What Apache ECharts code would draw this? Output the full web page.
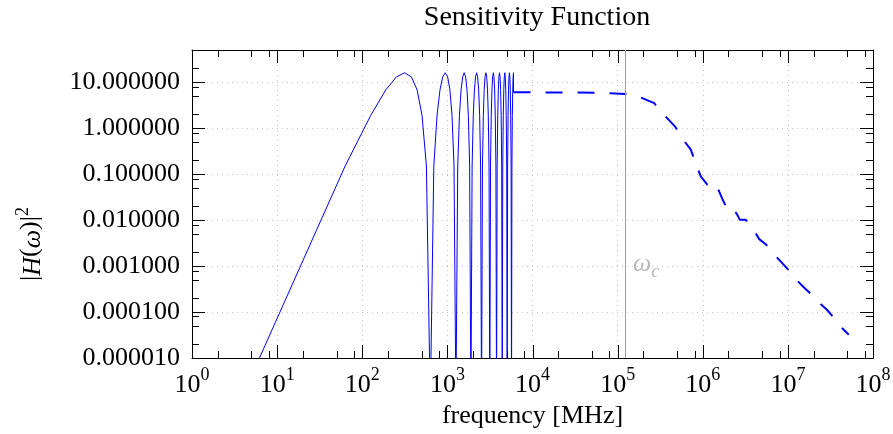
<!DOCTYPE html>
<html><head><meta charset="utf-8">
<script src="https://cdn.jsdelivr.net/npm/echarts@6/dist/echarts.min.js"></script>
<style>html,body{margin:0;padding:0;background:#fff}#c{width:893px;height:434px}</style>
</head><body><div id="c"></div>
<script>
const titleText = 'Sensitivity Function';
const xName = 'frequency [MHz]';
const xMajorTicks = [1, 10, 100, 1e3, 1e4, 1e5, 1e6, 1e7, 1e8];
const xMinorTicks = [2, 5, 8, 20, 50, 80, 200, 500, 800, 2e3, 5e3, 8e3, 2e4, 5e4, 8e4,
  2e5, 5e5, 8e5, 2e6, 5e6, 8e6, 2e7, 5e7, 8e7];
const yMajorTicks = [1e-5, 1e-4, 1e-3, 1e-2, 1e-1, 1, 10];
const yMinorTicks = [2e-5, 5e-5, 8e-5, 2e-4, 5e-4, 8e-4, 2e-3, 5e-3, 8e-3, 2e-2, 5e-2, 8e-2,
  0.2, 0.5, 0.8, 2, 5, 8, 20];

// solid curve (sampled comb response)
const solidFreq = [6.2,
  63, 126, 189, 252, 315, 378, 441, 504, 567, 630,
  693, 756, 819, 882, 945, 1008, 1071, 1134, 1197, 1260,
  1323, 1386, 1449, 1512, 1575, 1638, 1701, 1764, 1827, 1890,
  1953, 2016, 2079, 2142, 2205, 2268, 2331, 2394, 2457, 2520,
  2583, 2646, 2709, 2772, 2835, 2898, 2961, 3024, 3087, 3150,
  3213, 3276, 3339, 3402, 3465, 3528, 3591, 3654, 3717, 3780,
  3843, 3906, 3969, 4032, 4095, 4158, 4221, 4284, 4347, 4410,
  4473, 4536, 4599, 4662, 4725, 4788, 4851, 4914, 4977, 5040,
  5103, 5166, 5229, 5292, 5355, 5418, 5481, 5544, 5607, 5670,
  5733, 5796, 5859, 5922, 5985, 5985];
const solidGain = [1e-5,
  0.15, 1.9, 6.8, 13, 16, 13, 6.8, 1.9, 0.15, 1e-6,
  0.15, 1.9, 6.8, 13, 16, 13, 6.8, 1.9, 0.15, 1e-6,
  0.15, 1.9, 6.8, 13, 16, 13, 6.8, 1.9, 0.15, 1e-6,
  0.15, 1.9, 6.8, 13, 16, 13, 6.8, 1.9, 0.15, 1e-6,
  0.15, 1.9, 6.8, 13, 16, 13, 6.8, 1.9, 0.15, 1e-6,
  0.15, 1.9, 6.8, 13, 16, 13, 6.8, 1.9, 0.15, 1e-6,
  0.15, 1.9, 6.8, 13, 16, 13, 6.8, 1.9, 0.15, 1e-6,
  0.15, 1.9, 6.8, 13, 16, 13, 6.8, 1.9, 0.15, 1e-6,
  0.15, 1.9, 6.8, 13, 16, 13, 6.8, 1.9, 0.15, 1e-6,
  0.15, 1.9, 6.8, 13, 16, 6.0];

// dashed curve
const dashedFreq = [5985, 9730, 5.6e4, 1.25e5, 1.88e5, 2.69e5, 3.36e5, 4.74e5, 5.68e5, 7.24e5,
  8.28e5, 9.48e5, 1.13e6, 1.28e6, 1.48e6, 1.70e6, 1.86e6, 2.13e6, 2.55e6, 2.72e6,
  3.19e6, 3.82e6, 4.18e6, 4.57e6, 5.57e6, 5.99e6, 6.67e6, 8.43e6, 1.03e7, 1.26e7,
  1.58e7, 1.90e7, 2.35e7, 2.88e7, 3.62e7, 4.33e7, 5.19e7];
const dashedGain = [6.0, 6.0, 5.9, 5.5, 4.6, 3.5, 2.1, 1.08, 0.61, 0.34,
  0.17, 0.089, 0.059, 0.067, 0.052, 0.029, 0.020, 0.0215, 0.013, 0.0102,
  0.0102, 0.0064, 0.0052, 0.0039, 0.0029, 0.0025, 0.0019, 0.0012, 0.0008, 0.0005,
  0.00033, 0.00024, 0.000157, 0.000112, 0.000068, 0.000045, 0.000032];

const omegaC = 1.22e5;
const omegaCLabelY = 1e-3;

const X_MIN = 1, X_MAX = 1e8, Y_MIN = 1e-5, Y_MAX = 50;
const FONT = 'Liberation Serif';
const BLUE = '#0000ff';
const chart = echarts.init(document.getElementById('c'), null, {renderer: 'canvas'});

function baseAxis(isX, pos, main) {
  const a = {
    type: 'log', logBase: 10, min: isX ? X_MIN : Y_MIN, max: isX ? X_MAX : Y_MAX,
    interval: 1, gridIndex: 0, position: pos,
    axisLine: {show: true, onZero: false, lineStyle: {color: '#000', width: 1}},
    axisTick: {show: false},
    axisLabel: {show: false},
    splitLine: {show: false},
    minorTick: {show: false}, minorSplitLine: {show: false}
  };
  if (main) {
    a.splitLine = {show: true, lineStyle: {color: '#c4c4c4', width: 1, type: [1, 4]}};
    if (isX) {
      a.axisLabel = {
        show: true, customValues: xMajorTicks, margin: 8, color: '#000',
        formatter: v => '{b|10}{s|' + Math.round(Math.log10(v)) + '}',
        rich: {
          b: {fontFamily: FONT, fontSize: 26, lineHeight: 32, color: '#000', verticalAlign: 'bottom'},
          s: {fontFamily: FONT, fontSize: 18, lineHeight: 18, color: '#000', verticalAlign: 'top'}
        }
      };
      a.name = xName; a.nameLocation = 'middle'; a.nameGap = 40;
      a.nameTextStyle = {fontFamily: FONT, fontSize: 26, color: '#000'};
    } else {
      a.axisLabel = {
        show: true, customValues: yMajorTicks, margin: 12, color: '#000',
        fontFamily: FONT, fontSize: 26,
        formatter: v => Number(v).toFixed(6)
      };
      a.name = '|{i|H}({i|ω})|{s|2}'; a.nameLocation = 'middle'; a.nameGap = 146;
      a.nameTextStyle = {
        fontFamily: FONT, fontSize: 26, color: '#000', lineHeight: 32,
        padding: [0, 80, 0, 0],
        rich: {
          i: {fontFamily: FONT, fontSize: 26, fontStyle: 'italic', color: '#000', lineHeight: 32, verticalAlign: 'bottom'},
          s: {fontFamily: FONT, fontSize: 18, color: '#000', lineHeight: 18, verticalAlign: 'top'}
        }
      };
    }
  }
  return a;
}

const option = {
  animation: false,
  backgroundColor: '#fff',
  title: {
    text: titleText, left: 532, top: -1, textAlign: 'center',
    textStyle: {fontFamily: FONT, fontSize: 28, fontWeight: 'normal', color: '#000'}
  },
  grid: {left: 192, right: 20, top: 50, bottom: 76, containLabel: false, outerBoundsMode: 'none'},
  xAxis: [baseAxis(true, 'bottom', true), baseAxis(true, 'top', false)],
  yAxis: [baseAxis(false, 'left', true), baseAxis(false, 'right', false)],
  series: [
    {
      type: 'line', xAxisIndex: 0, yAxisIndex: 0, showSymbol: false, symbol: 'none',
      data: solidFreq.map((f, i) => [f, solidGain[i]]),
      lineStyle: {color: BLUE, width: 1}, clip: true, z: 3
    },
    {
      type: 'line', xAxisIndex: 0, yAxisIndex: 0, showSymbol: false, symbol: 'none',
      data: dashedFreq.map((f, i) => [f, dashedGain[i]]),
      lineStyle: {color: BLUE, width: 2, type: [17, 15]}, clip: true, z: 3,
      markLine: {
        silent: true, symbol: ['none', 'none'], animation: false,
        lineStyle: {color: '#9a9a9a', width: 1, type: 'solid'},
        label: {show: false},
        data: [{xAxis: omegaC}]
      }
    },
    {
      type: 'scatter', xAxisIndex: 0, yAxisIndex: 0, symbolSize: 0, silent: true,
      data: [[omegaC, omegaCLabelY]],
      label: {
        show: true, position: 'right', distance: 8,
        formatter: '{w|ω}{c|c}',
        rich: {
          w: {fontFamily: FONT, fontSize: 26, fontStyle: 'italic', color: '#a8a8a8', lineHeight: 30, verticalAlign: 'top'},
          c: {fontFamily: FONT, fontSize: 18, fontStyle: 'italic', color: '#a8a8a8', lineHeight: 18, verticalAlign: 'bottom'}
        }
      }
    }
  ]
};
chart.setOption(option);

// inside tick marks on all four sides, positioned through the axes' scales
const px = v => chart.convertToPixel({xAxisIndex: 0}, v);
const py = v => chart.convertToPixel({yAxisIndex: 0}, v);
const xl = px(X_MIN), xr = px(X_MAX), yb = py(Y_MIN), yt = py(Y_MAX);
const tickEls = [];
const TS = {stroke: '#000', lineWidth: 1};
function addX(list, len) {
  list.forEach(v => {
    const x = Math.round(px(v)) + 0.5;
    tickEls.push({type: 'line', silent: true, z: 100, shape: {x1: x, y1: yb, x2: x, y2: yb - len}, style: TS});
    tickEls.push({type: 'line', silent: true, z: 100, shape: {x1: x, y1: yt, x2: x, y2: yt + len}, style: TS});
  });
}
function addY(list, len) {
  list.forEach(v => {
    const y = Math.round(py(v)) + 0.5;
    tickEls.push({type: 'line', silent: true, z: 100, shape: {x1: xl, y1: y, x2: xl + len, y2: y}, style: TS});
    tickEls.push({type: 'line', silent: true, z: 100, shape: {x1: xr, y1: y, x2: xr - len, y2: y}, style: TS});
  });
}
addX(xMajorTicks, 13); addX(xMinorTicks, 7);
addY(yMajorTicks, 13); addY(yMinorTicks, 7);
chart.setOption({graphic: {elements: tickEls}});
</script></body></html>
